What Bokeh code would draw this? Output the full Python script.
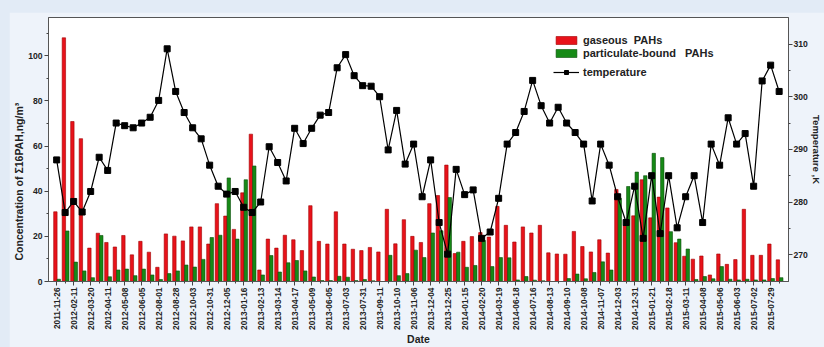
import numpy as np
from math import pi

from bokeh.plotting import figure
from bokeh.models import (ColumnDataSource, Range1d, LinearAxis, FixedTicker,
                          Legend, LegendItem, Title)
from bokeh.transform import dodge
from bokeh.layouts import column
from bokeh.embed import file_html
from bokeh.resources import INLINE

# Sampling dates shown on the x axis (every second sample is labelled)
tick_dates = [
    "2011-11-26", "2012-02-11", "2012-03-20", "2012-04-11", "2012-05-08",
    "2012-06-05", "2012-08-01", "2012-08-28", "2012-10-03", "2012-10-31",
    "2012-12-05", "2013-01-16", "2013-02-13", "2013-03-14", "2013-04-17",
    "2013-05-09", "2013-06-05", "2013-07-03", "2013-07-31", "2013-09-11",
    "2013-10-10", "2013-11-06", "2013-12-04", "2013-12-25", "2014-01-15",
    "2014-02-20", "2014-03-19", "2014-06-18", "2014-07-16", "2014-08-13",
    "2014-09-10", "2014-10-08", "2014-11-07", "2014-12-03", "2014-12-31",
    "2015-01-21", "2015-02-18", "2015-03-11", "2015-04-08", "2015-05-06",
    "2015-06-03", "2015-07-02", "2015-07-29",
]

# Gas-phase sum of 16 PAHs (ng/m3), one value per sample
gaseous = [
    30.9, 108.0, 70.9, 63.3, 14.8, 21.4, 17.3, 15.3, 20.4, 11.8,
    17.8, 13.0, 6.3, 21.1, 20.1, 18.0, 24.2, 24.2, 16.6, 34.5,
    29.0, 23.1, 39.3, 65.3, 5.1, 18.8, 14.8, 20.5, 18.5, 13.7,
    33.6, 17.8, 16.6, 30.9, 16.6, 14.3, 13.7, 15.1, 13.1, 32.0,
    16.7, 27.4, 20.0, 17.3, 34.5, 38.1, 51.6, 12.4, 17.8, 19.9,
    21.7, 19.7, 33.3, 24.9, 17.5, 24.2, 21.5, 24.9, 12.7, 12.2,
    12.1, 22.2, 15.5, 13.1, 18.5, 12.6, 40.8, 24.9, 29.1, 45.1,
    28.2, 37.4, 32.6, 17.2, 11.2, 9.9, 11.3, 2.9, 12.2, 7.6,
    9.7, 32.0, 11.6, 11.6, 16.6, 9.6,
]

# Particle-bound sum of 16 PAHs (ng/m3)
particulate = [
    1.0, 22.4, 8.6, 4.7, 1.7, 20.4, 2.1, 5.1, 5.5, 2.6,
    5.5, 2.9, 0.9, 3.5, 4.7, 7.3, 6.4, 9.8, 19.5, 20.5,
    45.9, 18.8, 45.1, 51.2, 2.9, 11.5, 4.2, 8.3, 9.3, 4.7,
    2.0, 0.4, 0.4, 2.3, 1.9, 0.4, 0.9, 0.3, 0.0, 11.6,
    2.6, 3.5, 13.9, 10.6, 21.5, 22.5, 37.2, 13.0, 6.3, 7.1,
    18.2, 6.6, 10.6, 10.5, 0.7, 2.2, 0.6, 0.3, 0.0, 0.0,
    1.3, 3.3, 1.2, 4.0, 8.7, 5.1, 36.9, 42.1, 48.5, 46.9,
    56.8, 54.9, 22.1, 18.8, 14.4, 0.9, 2.2, 1.2, 6.6, 1.0,
    0.7, 1.0, 0.7, 0.7, 1.3, 1.7,
]

# Mean air temperature during sampling (K)
temperature = [
    288.0, 278.0, 280.1, 278.1, 282.0, 288.5, 286.0, 295.0, 294.5, 294.1,
    295.0, 296.1, 299.3, 309.1, 301.0, 297.0, 294.1, 292.0, 287.0, 283.0,
    281.5, 282.0, 279.0, 278.0, 280.0, 290.5, 287.5, 284.0, 294.0, 291.1,
    294.0, 296.5, 297.0, 305.5, 308.0, 304.0, 302.1, 302.0, 300.0, 289.9,
    297.4, 287.2, 291.0, 281.0, 288.0, 276.1, 270.1, 286.2, 281.4, 282.3,
    273.1, 274.3, 280.7, 291.0, 293.2, 297.2, 303.1, 298.3, 295.0, 298.0,
    295.0, 293.2, 291.0, 280.2, 291.0, 287.0, 281.0, 276.1, 283.0, 273.1,
    285.0, 274.0, 285.0, 275.1, 281.0, 285.0, 276.1, 291.0, 287.0, 296.0,
    291.0, 293.0, 283.0, 303.0, 306.0, 301.0,
]

idx = list(range(len(temperature)))
source = ColumnDataSource(dict(idx=idx, gas=gaseous, part=particulate, temp=temperature))

FONT = "Liberation Sans"
PANEL = "#eef3fa"
PAGE = "#e2ebf6"

p = figure(
    width=815, height=335,
    x_range=Range1d(-0.96, 86.1), y_range=Range1d(0, 117.0),
    output_backend="svg", toolbar_location=None,
    min_border_left=36, min_border_right=30, min_border_top=5, min_border_bottom=60,
    background_fill_color="white", border_fill_color=PANEL,
)
p.extra_y_ranges = {"temp": Range1d(264.9, 315.05)}
p.xgrid.visible = False
p.ygrid.visible = False
p.outline_line_color = "#555555"
p.outline_line_width = 1

# bars: gaseous (red) and particle-bound (green), side by side per sample
r_gas = p.vbar(x=dodge("idx", -0.15), top="gas", width=0.40, bottom=0, source=source,
               fill_color="#e8121a", line_color="#a00000", line_width=0.6)
r_part = p.vbar(x=dodge("idx", 0.25), top="part", width=0.40, bottom=0, source=source,
                fill_color="#168a16", line_color="#0b4d0b", line_width=0.6)

# temperature on the right-hand scale
r_tline = p.line(x="idx", y="temp", source=source, y_range_name="temp",
                 line_color="black", line_width=1.2)
r_tsq = p.scatter(x="idx", y="temp", source=source, y_range_name="temp",
                  marker="square", size=6, fill_color="black", line_color="black")

# axes
def style_axis(ax):
    ax.axis_line_color = "#555555"
    ax.major_tick_line_color = "#444444"
    ax.minor_tick_line_color = "#444444"
    ax.major_tick_in = 0
    ax.minor_tick_in = 0
    ax.major_tick_out = 4
    ax.minor_tick_out = 2
    ax.major_label_text_font = FONT
    ax.major_label_text_font_style = "bold"
    ax.major_label_text_color = "#222222"
    ax.major_label_text_font_size = "8.6px"
    ax.axis_label_text_font = FONT
    ax.axis_label_text_font_style = "bold"
    ax.axis_label_text_color = "#222222"

yl = p.yaxis[0]
style_axis(yl)
yl.ticker = FixedTicker(ticks=[0, 20, 40, 60, 80, 100], minor_ticks=[10, 30, 50, 70, 90, 110])
yl.major_label_standoff = 2

xb = p.xaxis[0]
style_axis(xb)
xb.ticker = FixedTicker(ticks=idx[::2], minor_ticks=idx[1::2])
xb.major_label_overrides = {i: d for i, d in zip(idx[::2], tick_dates)}
xb.major_label_orientation = pi / 2
xb.major_label_text_font_size = "8.3px"
xb.major_label_standoff = 2
xb.axis_label = "Date"
xb.axis_label_text_font_size = "10.5px"
xb.axis_label_standoff = 0

yr = LinearAxis(y_range_name="temp")
style_axis(yr)
yr.ticker = FixedTicker(ticks=[270, 280, 290, 300, 310], minor_ticks=[275, 285, 295, 305])
yr.major_label_standoff = 1
yr.axis_label = "Temperature ,K"
yr.axis_label_text_font_size = "9.5px"
yr.axis_label_standoff = 0
p.add_layout(yr, "right")

# left-hand title, set a little below the middle of the plot
p.add_layout(Title(text="Concentration of \u03a316PAH,ng/m\u00b3", align="left", offset=21,
                   standoff=2, text_font=FONT, text_font_style="bold",
                   text_font_size="10.5px", text_color="#222222"), "left")

# legends
legend_style = dict(
    label_text_font=FONT, label_text_font_style="bold", label_text_font_size="11px",
    label_text_color="#222222", glyph_width=26, glyph_height=10, label_standoff=4,
    padding=0, margin=0, border_line_alpha=0, background_fill_alpha=0,
)
leg_bars = Legend(items=[LegendItem(label="gaseous\u00a0 PAHs", renderers=[r_gas]),
                         LegendItem(label="particulate-bound\u00a0 \u00a0PAHs", renderers=[r_part])],
                  location=(505, 222), spacing=1, **legend_style)
leg_temp = Legend(items=[LegendItem(label="temperature", renderers=[r_tline, r_tsq])],
                  location=(505, 203), **legend_style)
p.add_layout(leg_bars)
p.add_layout(leg_temp)

page = column(p, styles={"background-color": PAGE, "padding-left": "9px", "padding-top": "12px"})

open("out.html", "w").write(file_html(page, INLINE))
